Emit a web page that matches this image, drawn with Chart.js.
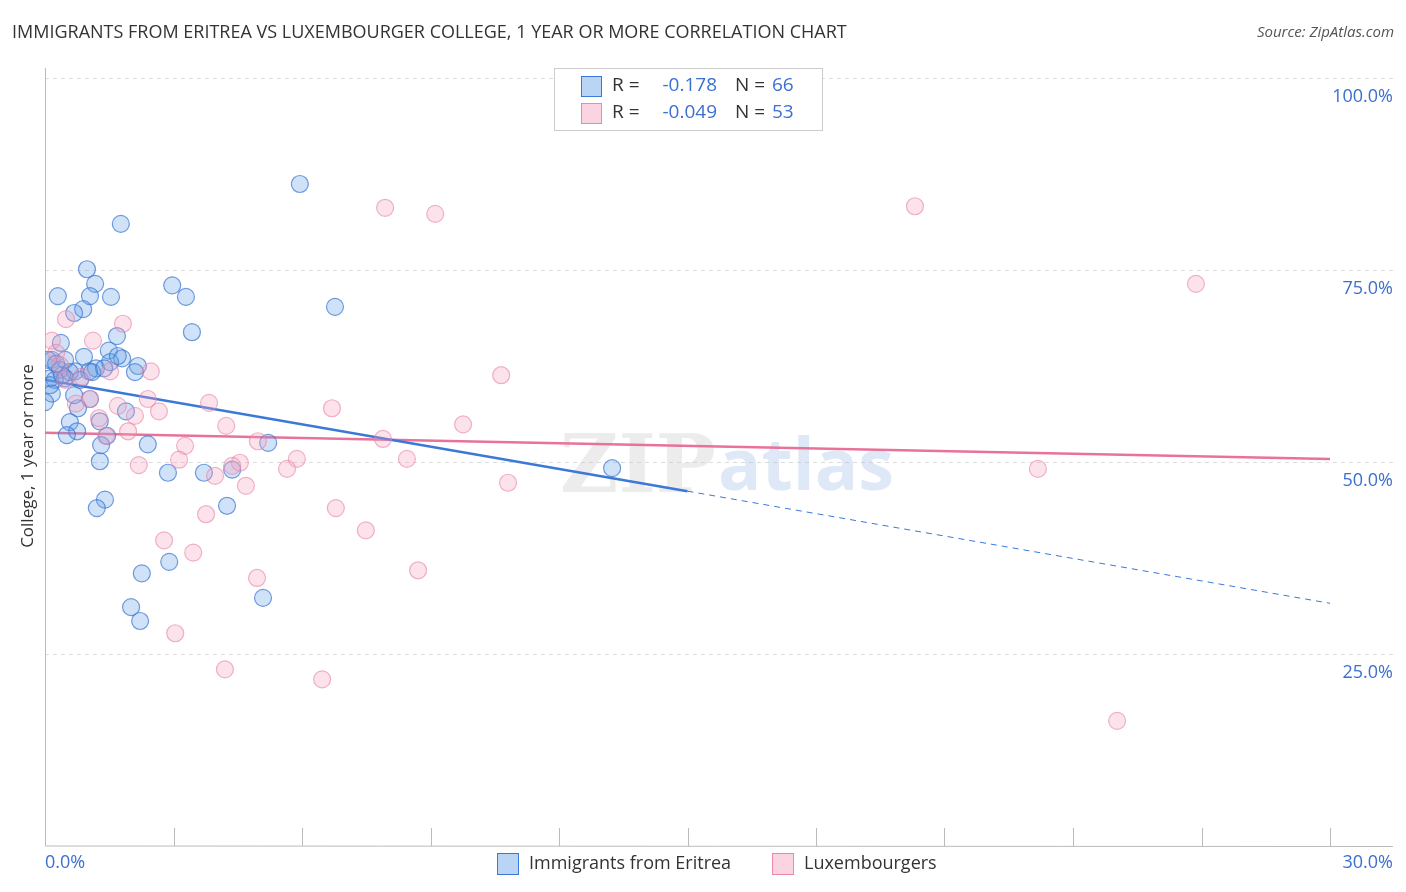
<!DOCTYPE html>
<html><head><meta charset="utf-8">
<script src="https://cdn.jsdelivr.net/npm/chart.js@4"></script>
<style>body{margin:0;background:#fff}canvas{display:block}</style></head>
<body><canvas id="c" width="1406" height="892"></canvas>
<script>
const eritreaX=[5.95,1.77,0.98,1.17,0.30,1.05,1.54,2.97,3.29,0.89,0.68,6.77,3.43,1.68,0.37,1.49,0.16,0.91,1.80,2.17,1.19,0.35,0.70,1.03,2.10,0.12,0.47,0.23,0.12,0.16,0.0,1.05,0.77,1.89,1.28,0.58,0.75,0.51,1.45,2.40,1.31,5.21,1.28,13.24,2.87,3.71,4.37,1.40,1.21,4.25,2.26,2.90,5.09,2.01,2.22,0.58,0.40,0.07,0.26,1.52,0.82,1.10,1.38,0.47,0.68,1.70];
const eritreaY=[86.2,81.0,75.1,73.2,71.6,71.6,71.5,73.0,71.5,69.9,69.4,70.2,66.9,66.4,65.5,64.5,63.3,63.7,63.5,62.5,62.2,62.0,61.8,61.8,61.7,60.9,60.9,60.7,60.0,58.9,57.8,58.2,57.0,56.6,55.3,55.2,54.0,53.5,53.4,52.3,52.2,52.5,50.1,49.2,48.6,48.6,49.0,45.1,44.0,44.3,35.5,37.0,32.3,31.1,29.3,61.7,61.3,63.3,62.8,63.0,60.7,61.7,62.2,63.3,58.7,63.8];
const luxX=[7.94,9.11,20.31,26.87,0.49,1.82,1.12,0.16,0.26,2.47,1.52,0.86,0.47,10.65,1.05,2.40,3.83,0.72,1.70,2.66,6.70,2.10,1.26,4.23,9.76,1.94,1.42,4.97,7.89,3.27,8.45,5.88,2.19,3.13,4.55,4.37,5.65,3.97,4.69,10.81,23.18,6.79,3.76,7.49,2.78,3.46,8.71,4.95,3.04,4.20,6.47,25.03,0.35];
const luxY=[83.1,82.3,83.3,73.2,68.6,68.0,65.8,65.8,64.2,61.8,61.8,61.1,60.7,61.3,58.2,58.2,57.7,57.6,57.3,56.6,57.0,56.0,55.7,54.7,54.9,54.0,53.4,52.7,53.0,52.1,50.4,50.4,49.6,50.3,49.9,49.5,49.1,48.2,46.9,47.3,49.1,44.0,43.2,41.1,39.8,38.2,35.9,34.9,27.7,23.0,21.7,16.3,62.6];
const blueTrendX=[0,15], blueTrendY=[60.7,46.2];
const blueDashX=[15,30], blueDashY=[46.2,31.6];
const pinkTrendX=[0,30], pinkTrendY=[53.8,50.4];
const yTicks=[25,50,75,100];
const xTicks=[0,3,6,9,12,15,18,21,24,27,30];
const legendItems=["Immigrants from Eritrea","Luxembourgers"];
const stats=[["-0.178","66"],["-0.049","53"]];

const zip=(a,b)=>a.map((x,i)=>({x,y:b[i]}));
const BLUE='#3b78d8', PINK='#e8729a', TXT='#3b6fd0';
const deco={id:'deco',
 beforeDatasetsDraw(ch){const c=ch.ctx,a=ch.chartArea,x=ch.scales.x,y=ch.scales.y;c.save();
  c.strokeStyle='#dcdcdc';c.lineWidth=1;c.setLineDash([4,4]);
  yTicks.forEach(t=>{const py=Math.round(y.getPixelForValue(t))+.5;c.beginPath();c.moveTo(a.left,py);c.lineTo(1393,py);c.stroke();});
  c.setLineDash([]);c.strokeStyle='#bbb';
  c.beginPath();c.moveTo(a.left+.5,68);c.lineTo(a.left+.5,a.bottom);c.lineTo(1393,a.bottom+.5);c.stroke();
  xTicks.forEach(t=>{const px=Math.round(x.getPixelForValue(t))+.5;c.beginPath();c.moveTo(px,828);c.lineTo(px,a.bottom);c.stroke();});
  c.font='bold 80px "DejaVu Serif"';c.fillStyle='rgba(200,200,200,0.35)';c.textAlign='right';c.textBaseline='alphabetic';c.fillText('ZIP',716,492);
  c.font='bold 72px "Open Sans"';c.fillStyle='rgba(160,190,230,0.35)';c.textAlign='left';c.fillText('atlas',718,490);
  c.restore();},
 afterDraw(ch){const c=ch.ctx,a=ch.chartArea,y=ch.scales.y;c.save();
  c.fillStyle=TXT;c.font='18px "Open Sans"';c.textAlign='right';c.textBaseline='middle';
  yTicks.forEach(t=>c.fillText(t.toFixed(1)+'%',1393,y.getPixelForValue(t)+19));
  c.textAlign='left';c.fillText('0.0%',45,863);c.textAlign='right';c.fillText('30.0%',1393,863);
  c.fillStyle='#333';c.font='18px "Open Sans"';c.textAlign='left';c.fillText('IMMIGRANTS FROM ERITREA VS LUXEMBOURGER COLLEGE, 1 YEAR OR MORE CORRELATION CHART',12,33);
  c.fillStyle='#555';c.font='italic 15px "Open Sans"';c.textAlign='right';c.fillText('Source: ZipAtlas.com',1394,33);
  c.save();c.translate(28,456);c.rotate(-Math.PI/2);c.textAlign='center';c.fillStyle='#333';c.font='17px "Open Sans"';c.fillText('College, 1 year or more',0,0);c.restore();
  // stats box
  c.strokeStyle='#ccc';c.fillStyle='#fff';c.fillRect(554,68,268,62);c.strokeRect(554.5,68.5,268,62);
  [[0,'rgba(100,160,230,0.45)','#3b78d8'],[1,'rgba(245,160,190,0.45)','#e88aa8']].forEach(([i,f,s])=>{const yy=86+i*27;
   c.fillStyle=f;c.strokeStyle=s;c.fillRect(581,yy-10,20,20);c.strokeRect(581.5,yy-9.5,20,20);
   c.font='19px "Open Sans"';c.textAlign='left';c.fillStyle='#333';c.fillText('R =',612,yy);c.fillText('N =',735,yy);
   c.fillStyle=TXT;c.textAlign='right';c.fillText(stats[i][0],717,yy);c.textAlign='left';c.fillText(stats[i][1],772,yy);});
  // legend
  [[497,'rgba(100,160,230,0.45)','#3b78d8',0],[772,'rgba(245,160,190,0.45)','#e88aa8',1]].forEach(([lx,f,s,i])=>{
   c.fillStyle=f;c.strokeStyle=s;c.fillRect(lx,853,21,21);c.strokeRect(lx+.5,853.5,21,21);
   c.fillStyle='#333';c.font='18px "Open Sans"';c.textAlign='left';c.fillText(legendItems[i],lx+32,864);});
  c.restore();}};
new Chart(document.getElementById('c'),{type:'scatter',
 data:{datasets:[
  {data:zip(luxX,luxY),backgroundColor:'rgba(245,160,190,0.3)',borderColor:'rgba(232,130,165,0.6)',borderWidth:1.2,pointRadius:8.5},
  {data:zip(eritreaX,eritreaY),backgroundColor:'rgba(100,160,230,0.3)',borderColor:'rgba(55,115,210,0.7)',borderWidth:1.2,pointRadius:8.5},
  {type:'line',data:zip(blueDashX,blueDashY),borderColor:BLUE,borderWidth:1,borderDash:[6,5],pointRadius:0},
  {type:'line',data:zip(blueTrendX,blueTrendY),borderColor:BLUE,borderWidth:2.5,pointRadius:0},
  {type:'line',data:zip(pinkTrendX,pinkTrendY),borderColor:PINK,borderWidth:2.5,pointRadius:0}]},
 options:{responsive:false,animation:false,layout:{padding:{left:45,right:76,top:78,bottom:46}},
  plugins:{legend:{display:false},tooltip:{enabled:false}},
  scales:{x:{type:'linear',min:0,max:30,display:false},y:{type:'linear',min:0,max:100,display:false}}},
 plugins:[deco]});
</script></body></html>
